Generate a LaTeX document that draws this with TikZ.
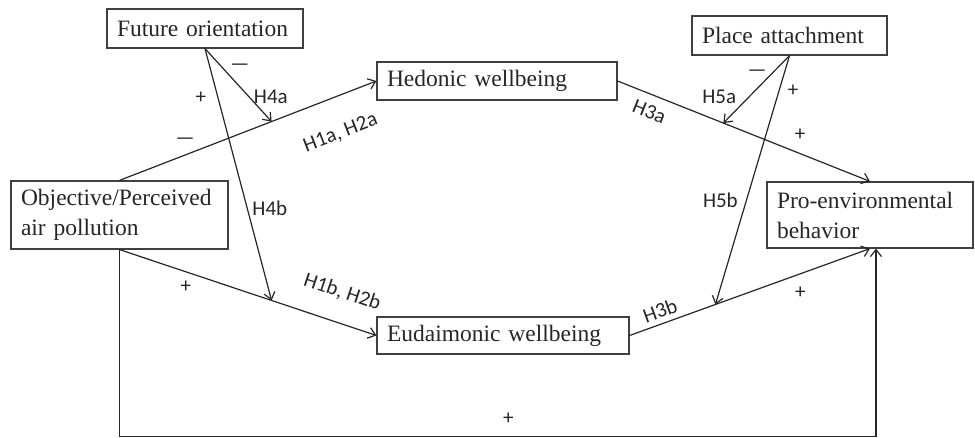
\documentclass[tikz,border=0pt]{standalone}
\usepackage{fontspec}
\setmainfont{Liberation Serif}
\newfontfamily\hypfont{Carlito}
\usepackage{tikz}
\usetikzlibrary{arrows.meta,calc}

\begin{document}
\begin{tikzpicture}[x=1pt,y=-1pt,
	box/.style={shape=rectangle,draw=black!75,line width=1.2pt,inner xsep=10pt,inner ysep=0pt,align=left,text=black!85,font=\fontsize{23.5}{30}\selectfont},
	hyp/.style={font=\hypfont\fontsize{21}{23}\selectfont,inner sep=2pt,text=black!85},
	link/.style={color=black!85,line width=1.2pt,-{Straight Barb[length=7pt,width=11pt]}}]
	\useasboundingbox (0,0) rectangle (975,438);

	\node[box,text width=176pt,minimum height=39pt] (fut) at (205,28.5)   {Future orientation};
	\node[box,text width=175pt,minimum height=39pt] (pla) at (789.5,35.5) {Place attachment};
	\node[box,text width=220pt,minimum height=38pt] (hed) at (497,81)     {Hedonic wellbeing};
	\node[box,text width=232pt,minimum height=37pt] (eud) at (503,335.5)  {Eudaimonic wellbeing};
	\node[box,text width=197pt,minimum height=68pt] (obj) at (119.5,215)  {Objective/Perceived\\air pollution};
	\node[box,text width=186pt,minimum height=66pt] (pro) at (870,215)    {Pro-environmental\\behavior};

	% points where the moderators hit the paths
	\coordinate (ma) at ($(obj.north)!.592!(hed.west)$);
	\coordinate (mb) at ($(obj.south)!.592!(eud.west)$);
	\coordinate (mc) at ($(hed.east)!.419!(pro.north)$);
	\coordinate (md) at ($(eud.east)!.357!(pro.south)$);

	\path[link] (obj.north) edge node[hyp,pos=.255,yshift=13.6pt]{—} node[hyp,pos=.81,sloped,below=25pt]{H1a, H2a} (hed.west);
	\path[link] (obj.south) edge node[hyp,pos=.258,yshift=-14.7pt]{+} node[hyp,pos=.83,sloped,above=19pt]{H1b, H2b} (eud.west);
	\path[link] (hed.east) edge node[hyp,pos=.15,sloped,below=7pt]{H3a} node[hyp,pos=.723,yshift=19pt]{+} (pro.north);
	\path[link] (eud.east) edge node[hyp,pos=.145,sloped,above=3pt]{H3b} node[hyp,pos=.71,yshift=-18.6pt]{+} (pro.south);
	\path[link] (fut.south) edge node[hyp,pos=.257,xshift=17.8pt]{—} node[hyp,pos=.664,xshift=21.6pt]{H4a} (ma);
	\path[link] (fut.south) edge node[hyp,pos=.194,xshift=-17pt]{+} node[hyp,pos=.634,xshift=22.6pt]{H4b} (mb);
	\path[link] (pla.south) edge node[hyp,pos=.264,xshift=-15pt]{—} node[hyp,pos=.615,xshift=-29.6pt]{H5a} (mc);
	\path[link] (pla.south) edge node[hyp,pos=.14,xshift=14pt]{+} node[hyp,pos=.582,xshift=-26pt]{H5b} (md);
	\draw[link] (obj.south) -- ++(0,187) -| node[hyp,pos=.257,yshift=18pt]{+} ([xshift=6pt]pro.south);

\end{tikzpicture}
\end{document}
